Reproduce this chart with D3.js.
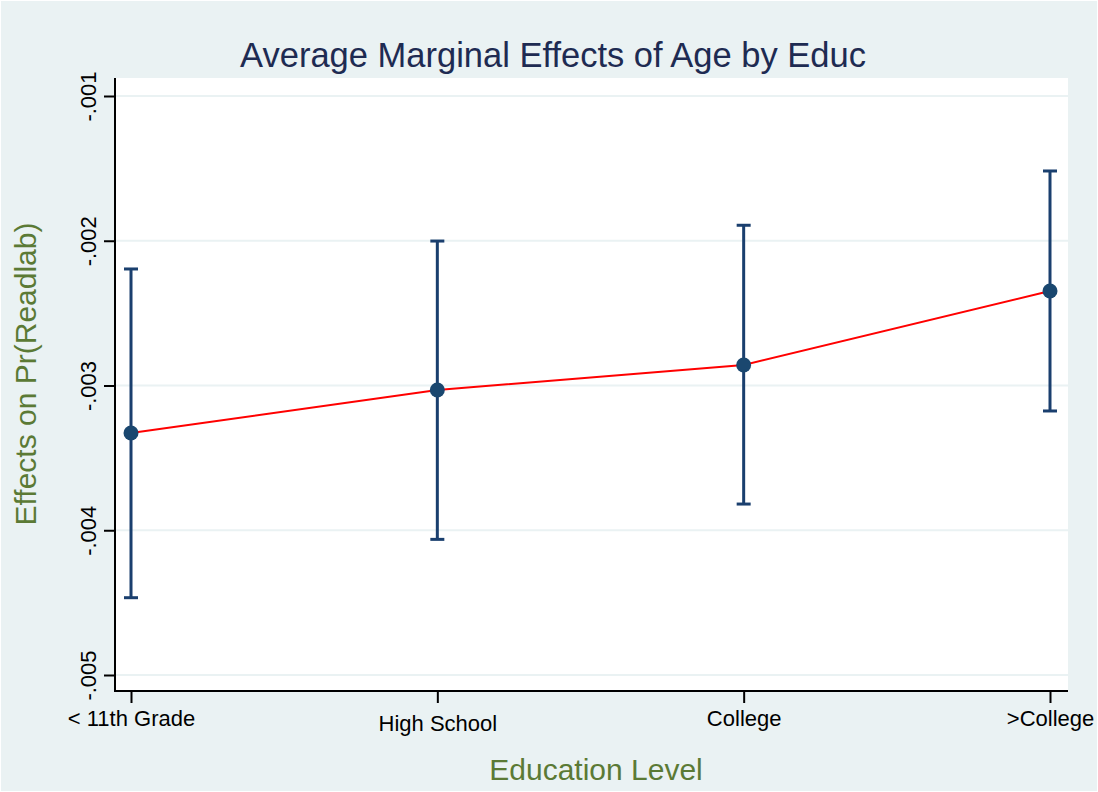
<!DOCTYPE html>
<html>
<head>
<meta charset="utf-8">
<script src="https://cdn.jsdelivr.net/npm/d3@7"></script>
<style>
  html, body { margin: 0; padding: 0; background: #ffffff; }
  svg { display: block; }
  text { font-family: "Liberation Sans", Arial, Helvetica, sans-serif; }
</style>
</head>
<body>
<svg id="chart" width="1098" height="792"></svg>
<script>
// ---- data ----
const categories = ["< 11th Grade", "High School", "College", ">College"];
const estimates  = [-0.003328, -0.003031, -0.002858, -0.002347];
const ciUpper    = [-0.002195, -0.002002, -0.001893, -0.001518];
const ciLower    = [-0.004466, -0.004063, -0.003819, -0.003176];
const yTicks     = [-0.005, -0.004, -0.003, -0.002, -0.001];
const yTickLabels = ["-.005", "-.004", "-.003", "-.002", "-.001"];
const labelOffsets = [0, 5, 0, 0]; // staggered x labels (px, layout)

const W = 1098, H = 792;
const svg = d3.select("#chart");

// outer background
svg.append("rect").attr("x", 0).attr("y", 0).attr("width", W).attr("height", H).attr("fill", "#ffffff");
svg.append("rect").attr("x", 1).attr("y", 1).attr("width", W - 2).attr("height", H - 2).attr("fill", "#eaf2f3");

const plot = { left: 115, right: 1068, top: 78, bottom: 691 };

// plot region
svg.append("rect")
  .attr("x", plot.left).attr("y", plot.top)
  .attr("width", plot.right - plot.left).attr("height", plot.bottom - plot.top)
  .attr("fill", "#ffffff");

const x = d3.scalePoint().domain(categories).range([131, 1050]);
const y = d3.scaleLinear().domain([-0.005, -0.001]).range([675, 96]);

// gridlines
svg.append("g").selectAll("line").data(yTicks).join("line")
  .attr("x1", plot.left).attr("x2", plot.right)
  .attr("y1", d => y(d)).attr("y2", d => y(d))
  .attr("stroke", "#eaf2f3").attr("stroke-width", 2);

// y axis
const yAxis = d3.axisLeft(y).tickValues(yTicks)
  .tickFormat((d, i) => yTickLabels[i]).tickSize(11).tickSizeOuter(0);
const gy = svg.append("g").attr("transform", `translate(${plot.left},0)`).call(yAxis);
gy.select(".domain").remove();
gy.append("line").attr("x1", 0).attr("x2", 0).attr("y1", plot.top).attr("y2", plot.bottom + 1)
  .attr("stroke", "#000").attr("stroke-width", 2);
gy.selectAll(".tick line").attr("stroke", "#000").attr("stroke-width", 2);
gy.selectAll(".tick text")
  .attr("fill", "#000").attr("font-size", 22)
  .attr("transform", "rotate(-90)")
  .attr("x", 0).attr("y", -19).attr("dy", 0)
  .attr("text-anchor", "middle");

// x axis
const xAxis = d3.axisBottom(x).tickSize(12).tickSizeOuter(0);
const gx = svg.append("g").attr("transform", `translate(0,${plot.bottom})`).call(xAxis);
gx.select(".domain").remove();
gx.append("line").attr("x1", plot.left - 1).attr("x2", plot.right).attr("y1", 0).attr("y2", 0)
  .attr("stroke", "#000").attr("stroke-width", 2);
gx.selectAll(".tick line").attr("stroke", "#000").attr("stroke-width", 2);
gx.selectAll(".tick text")
  .attr("fill", "#000").attr("font-size", 22)
  .attr("y", (d, i) => 35 + labelOffsets[i]).attr("dy", 0);

// connecting line
svg.append("path")
  .datum(categories.map((c, i) => [x(c), y(estimates[i])]))
  .attr("d", d3.line())
  .attr("fill", "none").attr("stroke", "#ff0000").attr("stroke-width", 2);

// error bars
const eb = svg.append("g").attr("stroke", "#1a3f6e").attr("stroke-width", 3);
categories.forEach((c, i) => {
  const cx = x(c);
  eb.append("line").attr("x1", cx).attr("x2", cx).attr("y1", y(ciUpper[i])).attr("y2", y(ciLower[i]));
  eb.append("line").attr("x1", cx - 7).attr("x2", cx + 7).attr("y1", y(ciUpper[i])).attr("y2", y(ciUpper[i]));
  eb.append("line").attr("x1", cx - 7).attr("x2", cx + 7).attr("y1", y(ciLower[i])).attr("y2", y(ciLower[i]));
});

// points
svg.append("g").selectAll("circle").data(categories).join("circle")
  .attr("cx", d => x(d)).attr("cy", (d, i) => y(estimates[i]))
  .attr("r", 7.5).attr("fill", "#1a476f");

// title
svg.append("text").attr("x", 553).attr("y", 67).attr("text-anchor", "middle")
  .attr("font-size", 34.5).attr("fill", "#1e2b52")
  .text("Average Marginal Effects of Age by Educ");

// axis titles
svg.append("text").attr("x", 596).attr("y", 780).attr("text-anchor", "middle")
  .attr("font-size", 30).attr("fill", "#5b7a35").text("Education Level");
svg.append("text").attr("transform", "translate(36,374) rotate(-90)").attr("text-anchor", "middle")
  .attr("font-size", 30).attr("fill", "#5b7a35").text("Effects on Pr(Readlab)");
</script>
</body>
</html>
